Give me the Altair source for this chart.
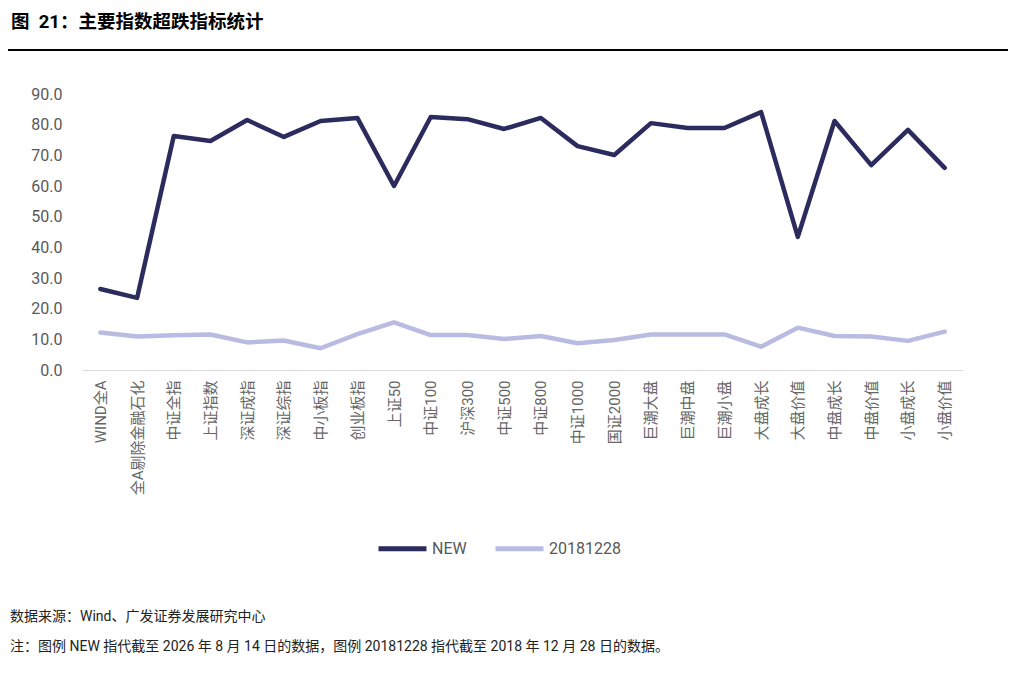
import altair as alt
import pandas as pd

categories = ["WIND全A", "全A剔除金融石化", "中证全指", "上证指数", "深证成指", "深证综指",
              "中小板指", "创业板指", "上证50", "中证100", "沪深300", "中证500", "中证800",
              "中证1000", "国证2000", "巨潮大盘", "巨潮中盘", "巨潮小盘", "大盘成长",
              "大盘价值", "中盘成长", "中盘价值", "小盘成长", "小盘价值"]
new_vals = [26.4, 23.5, 76.3, 74.7, 81.5, 76.0, 81.2, 82.2, 60.0, 82.5, 81.8, 78.6,
            82.2, 73.0, 70.1, 80.5, 78.9, 78.9, 84.1, 43.4, 81.2, 66.8, 78.3, 65.9]
old_vals = [12.2, 10.9, 11.3, 11.6, 9.0, 9.6, 7.1, 11.7, 15.5, 11.4, 11.4, 10.1,
            11.1, 8.7, 9.8, 11.6, 11.6, 11.6, 7.6, 13.8, 11.1, 10.9, 9.5, 12.5]
series_names = ["NEW", "20181228"]
series_colors = ["#2b2b5e", "#babbe2"]
y_ticks = [0, 10, 20, 30, 40, 50, 60, 70, 80, 90]

title_text = "图\u00a0\u00a021：主要指数超跌指标统计"
source_text = "数据来源：Wind、广发证券发展研究中心"
note_text = "注：图例 NEW 指代截至 2026 年 8 月 14 日的数据，图例 20181228 指代截至 2018 年 12 月 28 日的数据。"

rows = []
for i, c in enumerate(categories):
    rows.append({"cat": c, "series": series_names[0], "value": new_vals[i], "order": i})
    rows.append({"cat": c, "series": series_names[1], "value": old_vals[i], "order": i})
df = pd.DataFrame(rows)

FONT = "Roboto, 'Noto Sans CJK SC', sans-serif"
W, H = 881, 276

lines = alt.Chart(df).mark_line(strokeWidth=4.5, strokeCap="round", strokeJoin="round").encode(
    x=alt.X("cat:N", sort=categories, scale=alt.Scale(paddingInner=0, paddingOuter=0.5),
            axis=alt.Axis(title=None, labelAngle=-90, labelFontSize=15, labelColor="#666666",
                          labelFont=FONT, ticks=False, domain=True, domainColor="#d9d9d9",
                          domainWidth=1, labelPadding=10, labelAlign="right", labelBaseline="middle")),
    y=alt.Y("value:Q", scale=alt.Scale(domain=[0, 90], nice=False),
            axis=alt.Axis(title=None, values=y_ticks, format=".1f", labelFontSize=16,
                          labelColor="#595959", labelFont=FONT, ticks=False, domain=False,
                          grid=False, labelPadding=20)),
    color=alt.Color("series:N", sort=series_names,
                    scale=alt.Scale(domain=series_names, range=series_colors),
                    legend=alt.Legend(title=None, orient="none", direction="horizontal",
                                      legendX=294, legendY=428, symbolType="stroke",
                                      symbolSize=2300, symbolStrokeWidth=5, labelFontSize=16,
                                      labelColor="#595959", labelFont=FONT, columnPadding=18,
                                      labelOffset=3)),
    order="order:Q",
)

title = alt.Chart(pd.DataFrame({"t": [title_text]})).mark_text(
    align="left", baseline="middle", fontSize=18.5, fontWeight="bold", font=FONT, color="#000000"
).encode(x=alt.value(-71), y=alt.value(-72), text="t:N")

rule = alt.Chart(pd.DataFrame({"a": [0]})).mark_rule(color="#000000", strokeWidth=2).encode(
    x=alt.value(-79), x2=alt.value(926), y=alt.value(-44))

source = alt.Chart(pd.DataFrame({"t": [source_text]})).mark_text(
    align="left", baseline="middle", fontSize=14, font=FONT, color="#222222"
).encode(x=alt.value(-72), y=alt.value(523), text="t:N")

note = alt.Chart(pd.DataFrame({"t": [note_text]})).mark_text(
    align="left", baseline="middle", fontSize=14, font=FONT, color="#222222"
).encode(x=alt.value(-72), y=alt.value(553), text="t:N")

chart = alt.layer(lines, title, rule, source, note).properties(
    width=W, height=H,
    background="#ffffff",
    autosize=alt.AutoSizeParams(type="none"),
    padding={"left": 74, "top": 86, "right": 45, "bottom": 290},
).configure_view(stroke=None, strokeWidth=0)

chart.save("out.html", embed_options={"renderer": "svg", "actions": False})
